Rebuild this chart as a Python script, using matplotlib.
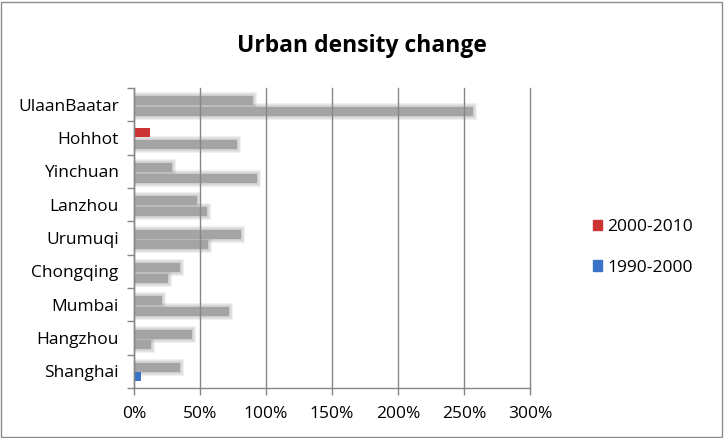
import numpy as np
import matplotlib
matplotlib.use("Agg")
import matplotlib.pyplot as plt
from matplotlib.patches import Patch, Rectangle

cities = ["Shanghai", "Hangzhou", "Mumbai", "Chongqing", "Urumuqi",
          "Lanzhou", "Yinchuan", "Hohhot", "UlaanBaatar"]
change_1990_2000 = [5, 13, 72, 26, 56, 55, 93, 78, 257]
change_2000_2010 = [35, 44, 21, 35, 81, 48, 29, 12, 90]
# only these two bars show their fill colour, the rest only show the grey shadow
coloured_1990 = ["Shanghai"]
coloured_2000 = ["Hohhot"]
x_ticks = [0, 50, 100, 150, 200, 250, 300]

RED = "#cc3333"
BLUE = "#3a72c8"
SHADOW = "#a4a4a4"
GRID = "#868686"

plt.rcParams["font.family"] = ["Open Sans", "DejaVu Sans"]

fig = plt.figure(figsize=(7.24, 4.38), dpi=100)
ax_rect = [0.185, 0.114, 0.547, 0.685]
ax = fig.add_axes(ax_rect)

y = np.arange(len(cities))
h = 0.27
off = 0.16

# one screen pixel in data units, for the soft shadow edge
px_x = 300 / (ax_rect[2] * fig.get_figwidth() * fig.dpi)
px_y = len(cities) / (ax_rect[3] * fig.get_figheight() * fig.dpi)


def shadow_bar(yc, val):
    yc = yc - 1.5 * px_y
    for d in [4, 3, 2, 1]:
        ax.barh(yc, val + d * px_x, height=h + 2 * d * px_y, color=SHADOW,
                alpha=0.16, linewidth=0, zorder=1)
    ax.barh(yc, val, height=h, color=SHADOW, linewidth=0, zorder=1)


for i, city in enumerate(cities):
    if city in coloured_2000:
        ax.barh(y[i] + off, change_2000_2010[i], height=h, color=RED, zorder=3)
    else:
        shadow_bar(y[i] + off, change_2000_2010[i])
    if city in coloured_1990:
        ax.barh(y[i] - off, change_1990_2000[i], height=h, color=BLUE, zorder=3)
    else:
        shadow_bar(y[i] - off, change_1990_2000[i])

ax.set_xlim(0, 300)
ax.set_ylim(-0.5, len(cities) - 0.5)
ax.set_xticks(x_ticks)
ax.set_xticklabels([f"{v}%" for v in x_ticks], fontsize=12.5)
ax.set_yticks(y)
ax.set_yticklabels(cities, fontsize=12.5)
ax.set_yticks(np.arange(-0.5, len(cities)), minor=True)
ax.tick_params(axis="y", which="major", length=0, pad=11)
ax.tick_params(axis="y", which="minor", length=5, color=GRID, width=1)
ax.tick_params(axis="x", length=5, color=GRID, width=1, pad=8)
# grid lines run over the grey shadows, as in the original
ax.xaxis.grid(True, color=GRID, linewidth=1)
ax.set_axisbelow("line")
for gl in ax.get_xgridlines():
    gl.set_clip_on(False)
for s in ["top", "right"]:
    ax.spines[s].set_visible(False)
for s in ["left", "bottom"]:
    ax.spines[s].set_color(GRID)
    ax.spines[s].set_linewidth(1)
    ax.spines[s].set_zorder(4)

fig.text(0.5, 0.895, "Urban density change", ha="center", va="center",
         fontsize=16.5, fontweight="bold")

handles = [Patch(color=RED, label="2000-2010"), Patch(color=BLUE, label="1990-2000")]
fig.legend(handles=handles, loc="center left", bbox_to_anchor=(0.797, 0.435),
           frameon=False, fontsize=12.5, handlelength=0.55, handleheight=0.55,
           handletextpad=0.3, labelspacing=1.4)

fig.patches.append(Rectangle((0.002, 0.003), 0.995, 0.993, transform=fig.transFigure,
                             fill=False, edgecolor="#8c8c8c", linewidth=1))

fig.savefig("out.png", dpi=100)
